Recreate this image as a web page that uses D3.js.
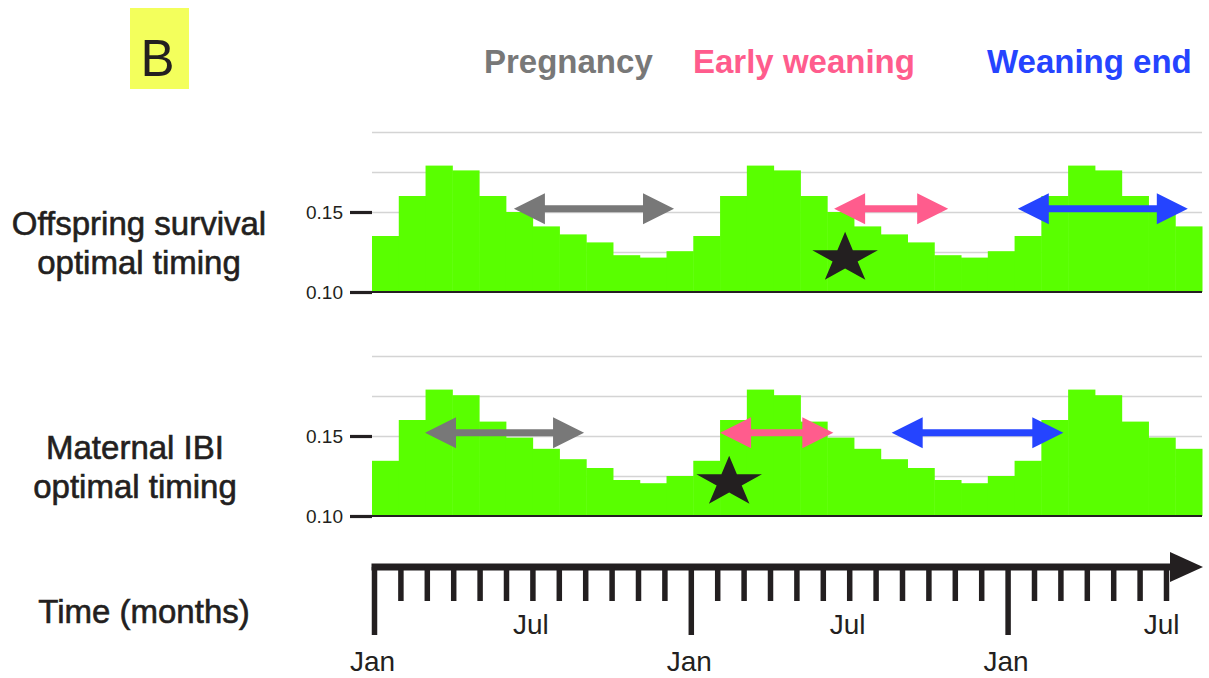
<!DOCTYPE html>
<html>
<head>
<meta charset="utf-8">
<script src="https://cdn.jsdelivr.net/npm/d3@7"></script>
<style>
  html, body { margin: 0; padding: 0; background: #ffffff; }
  svg { display: block; font-family: "Liberation Sans", Arial, Helvetica, sans-serif; }
</style>
</head>
<body>
<svg id="chart" width="1209" height="678"></svg>
<script>
// ---------------- DATA ----------------
const monthLabels = ["Jan","Feb","Mar","Apr","May","Jun","Jul","Aug","Sep","Oct","Nov","Dec",
                     "Jan","Feb","Mar","Apr","May","Jun","Jul","Aug","Sep","Oct","Nov","Dec",
                     "Jan","Feb","Mar","Apr","May","Jun","Jul"];
const shownMonthLabels = ["Jan", "Jul"];

const offspringValues = [0.135,0.160,0.179,0.176,0.160,0.150,0.141,0.136,0.131,0.123,0.1215,0.1255,
                         0.135,0.160,0.179,0.176,0.160,0.150,0.141,0.136,0.131,0.123,0.1215,0.1255,
                         0.135,0.160,0.179,0.176,0.160,0.150,0.141];
const maternalValues  = [0.1345,0.160,0.179,0.1755,0.159,0.149,0.142,0.1355,0.130,0.1225,0.1205,0.125,
                         0.1345,0.160,0.179,0.1755,0.159,0.149,0.142,0.1355,0.130,0.1225,0.1205,0.125,
                         0.1345,0.160,0.179,0.1755,0.159,0.149,0.142];

const yTickValues = [0.10, 0.15];
const yTickLabels = ["0.10", "0.15"];
const gridValues = [0.125, 0.15, 0.175, 0.20];

const periodNames = ["Pregnancy", "Early weaning", "Weaning end"];
// [start month, end month] along the bar time line, per period
const offspringSpans = [[5.30, 11.28], [17.26, 21.52], [24.12, 30.47]];
const maternalSpans  = [[1.98, 7.92],  [13.00, 17.23], [19.41, 25.82]];
const spanLevel = 0.152;
const offspringStar = { month: 17.67, value: 0.121 };
const maternalStar  = { month: 13.34, value: 0.121 };

const panelTitles = [["Offspring survival", "optimal timing"], ["Maternal IBI", "optimal timing"]];

// ---------------- STYLE ----------------
const periodColors = ["#787878", "#ff5c8d", "#2544ff"];
const barColor = "#59ff00";
const ink = "#231f20";
const gridColor = "#d4d4d4";

// ---------------- DRAW ----------------
const svg = d3.select("#chart");

// Panel label "B"
svg.append("rect").attr("x", 130).attr("y", 8).attr("width", 59).attr("height", 81).attr("fill", "#f3ff5c");
svg.append("text").attr("x", 157.5).attr("y", 76).attr("text-anchor", "middle")
  .attr("font-size", 51).attr("fill", ink).text("B");

// Legend
const legendX = [484, 693, 987];
svg.selectAll("text.legend").data(periodNames).join("text")
  .attr("class", "legend")
  .attr("x", (d, i) => legendX[i]).attr("y", 73)
  .attr("font-size", 33).attr("font-weight", "bold")
  .attr("fill", (d, i) => periodColors[i]).text(d => d);

const xBar = d3.scaleLinear().domain([0, monthLabels.length]).range([372, 1202]);

function drawPanel(values, spans, star, baseY, titles, titleX) {
  const y = d3.scaleLinear().domain([0.10, 0.20]).range([baseY, baseY - 160]);
  const g = svg.append("g");

  // gridlines
  g.append("g").call(d3.axisLeft(y).tickValues(gridValues).tickSize(-(xBar.range()[1] - xBar.range()[0])).tickFormat(""))
    .attr("transform", `translate(${xBar.range()[0]},0)`)
    .call(a => a.select(".domain").remove())
    .call(a => a.selectAll("line").attr("stroke", gridColor).attr("stroke-width", 1.5));

  // bars
  g.selectAll("rect.bar").data(values).join("rect")
    .attr("class", "bar")
    .attr("x", (d, i) => xBar(i))
    .attr("width", (d, i) => xBar(i + 1) - xBar(i) + 0.5)
    .attr("y", d => y(d))
    .attr("height", d => y(0.10) - y(d))
    .attr("fill", barColor);

  // baseline
  g.append("line").attr("x1", xBar.range()[0]).attr("x2", xBar.range()[1])
    .attr("y1", y(0.10)).attr("y2", y(0.10)).attr("stroke", ink).attr("stroke-width", 2);

  // y axis ticks
  const ax = g.append("g").attr("transform", `translate(${xBar.range()[0]},0)`)
    .call(d3.axisLeft(y).tickValues(yTickValues).tickSize(22).tickPadding(7)
      .tickFormat((d, i) => yTickLabels[i]));
  ax.select(".domain").remove();
  ax.selectAll("line").attr("stroke", ink).attr("stroke-width", 3.2);
  ax.selectAll("text").attr("font-size", 19).attr("fill", ink)
    .attr("font-family", "\"Liberation Sans\", Arial, sans-serif");

  // period arrows
  const headLen = 31, headHalf = 15.5, shaft = 7;
  spans.forEach((s, i) => {
    const x0 = xBar(s[0]), x1 = xBar(s[1]), yy = y(spanLevel);
    const p = d3.path();
    p.moveTo(x0, yy);
    p.lineTo(x0 + headLen, yy - headHalf);
    p.lineTo(x0 + headLen, yy - shaft / 2);
    p.lineTo(x1 - headLen, yy - shaft / 2);
    p.lineTo(x1 - headLen, yy - headHalf);
    p.lineTo(x1, yy);
    p.lineTo(x1 - headLen, yy + headHalf);
    p.lineTo(x1 - headLen, yy + shaft / 2);
    p.lineTo(x0 + headLen, yy + shaft / 2);
    p.lineTo(x0 + headLen, yy + headHalf);
    p.closePath();
    g.append("path").attr("d", p.toString()).attr("fill", periodColors[i]);
  });

  // star
  g.append("path")
    .attr("d", d3.symbol().type(d3.symbolStar).size(790)())
    .attr("transform", `translate(${xBar(star.month)},${y(star.value)}) scale(1.3,1)`)
    .attr("fill", ink);

  // panel title
  svg.selectAll(null).data(titles).join("text")
    .attr("x", titleX).attr("y", (d, i) => baseY - 57 + i * 39)
    .attr("text-anchor", "middle").attr("font-size", 33).attr("fill", ink)
    .attr("stroke", ink).attr("stroke-width", 0.6)
    .text(d => d);
}

drawPanel(offspringValues, offspringSpans, offspringStar, 292, panelTitles[0], 139);
drawPanel(maternalValues, maternalSpans, maternalStar, 516, panelTitles[1], 135);

// ---------------- TIME AXIS ----------------
const xTime = d3.scaleLinear().domain([0, 30]).range([374.5, 1166.5]);
const axisY = 567;
const tg = svg.append("g");
tg.append("line").attr("x1", xTime(0) - 3).attr("x2", 1175).attr("y1", axisY).attr("y2", axisY)
  .attr("stroke", ink).attr("stroke-width", 7);
tg.append("path")
  .attr("d", `M${1170},${axisY - 15}L${1203},${axisY}L${1170},${axisY + 15}Z`)
  .attr("fill", ink);
const tickIdx = d3.range(monthLabels.length).filter(i => xTime(i) <= xTime.range()[1] + 0.1);
tg.selectAll("line.tick").data(tickIdx).join("line")
  .attr("class", "tick")
  .attr("x1", i => xTime(i)).attr("x2", i => xTime(i))
  .attr("y1", axisY).attr("y2", i => monthLabels[i] === "Jan" ? 635 : 601)
  .attr("stroke", ink).attr("stroke-width", 5.5);
const lastIdx = tickIdx[tickIdx.length - 1];
tg.selectAll("text.mlab").data(tickIdx.filter(i => shownMonthLabels.includes(monthLabels[i]))).join("text")
  .attr("class", "mlab")
  .attr("x", i => i === lastIdx ? xTime(i) + 13 : xTime(i) - 2)
  .attr("y", i => monthLabels[i] === "Jan" ? 671 : 634)
  .attr("text-anchor", i => i === lastIdx ? "end" : "middle")
  .attr("font-size", 28).attr("fill", ink)
  .text(i => monthLabels[i]);

svg.append("text").attr("x", 144).attr("y", 623).attr("text-anchor", "middle")
  .attr("font-size", 33).attr("fill", ink).attr("stroke", ink).attr("stroke-width", 0.6)
  .text("Time (months)");
</script>
</body>
</html>
